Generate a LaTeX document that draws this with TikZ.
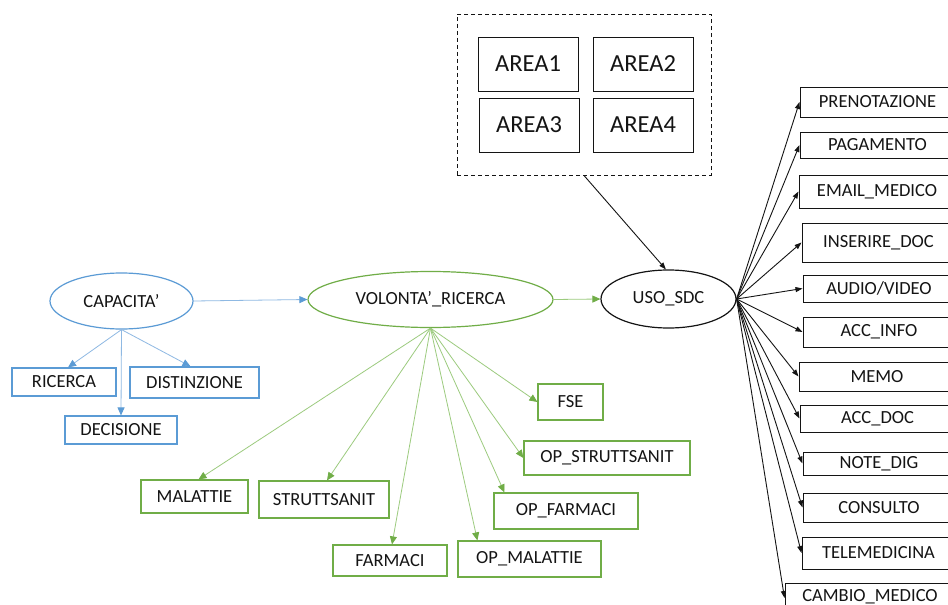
\documentclass[tikz,border=0pt]{standalone}
\usepackage{fontspec}
\setmainfont{Carlito}
\usetikzlibrary{arrows.meta,shapes.geometric}
\definecolor{bluec}{HTML}{5B9BD5}
\definecolor{bluel}{HTML}{8FB9E3}
\definecolor{greenc}{HTML}{70AD47}
\definecolor{greenl}{HTML}{9CCB7E}
\definecolor{inkc}{HTML}{141414}
\tikzset{
  lbl/.style={font=\fontsize{18.5}{20}\selectfont, text=inkc, inner sep=0pt},
  bigbox/.style={lbl, draw=inkc, line width=1pt, font=\fontsize{24.5}{26}\selectfont},
  bluebox/.style={lbl, draw=bluec, line width=1.2pt},
  greenbox/.style={lbl, draw=greenc, line width=1.2pt},
  blackbox/.style={lbl, draw=inkc, line width=1pt},
  oval/.style={lbl, ellipse, line width=1.2pt},
  bluearrow/.style={draw=bluel, line width=0.8pt, -{Triangle[length=8pt,width=7pt,color=bluec]}},
  greenarrow/.style={draw=greenl, line width=0.8pt, -{Triangle[length=8pt,width=7pt,color=greenc]}},
  blackarrow/.style={draw=inkc, line width=0.9pt, -{Triangle[length=7pt,width=5pt]}},
}
\begin{document}
\begin{tikzpicture}[x=1pt,y=-1pt]
\clip (0,0) rectangle (948,605);
\fill[white] (0,0) rectangle (948,605);

% top group of areas
\node[draw=inkc, dashed, dash pattern=on 4pt off 3pt, line width=1pt, minimum width=254, minimum height=161, inner sep=0pt] (areas) at (584,94.5) {};
\node[bigbox, minimum width=100, minimum height=54] (a1) at (528,64) {AREA1};
\node[bigbox, minimum width=100, minimum height=54] (a2) at (643,64) {AREA2};
\node[bigbox, minimum width=100, minimum height=54] (a3) at (529,125) {AREA3};
\node[bigbox, minimum width=100, minimum height=54] (a4) at (643,125) {AREA4};

% main ellipses
\node[oval, draw=bluec, minimum width=143, minimum height=56] (cap) at (121.5,301) {CAPACITA’};
\node[oval, draw=greenc, minimum width=245, minimum height=56] (vol) at (430.5,299.5) {VOLONTA’\_RICERCA};
\node[oval, draw=inkc, minimum width=135, minimum height=58] (uso) at (668.5,299) {USO\_SDC};

% blue boxes
\node[bluebox, minimum width=104, minimum height=28] (ric) at (64,382) {RICERCA};
\node[bluebox, minimum width=129, minimum height=31] (dist) at (194.5,382.5) {DISTINZIONE};
\node[bluebox, minimum width=112, minimum height=28] (dec) at (121,430) {DECISIONE};

% green boxes
\node[greenbox, minimum width=65, minimum height=36] (fse) at (570.5,402) {FSE};
\node[greenbox, minimum width=166, minimum height=34] (opstr) at (607,458) {OP\_STRUTTSANIT};
\node[greenbox, minimum width=144, minimum height=36] (opfar) at (566,511) {OP\_FARMACI};
\node[greenbox, minimum width=143, minimum height=36] (opmal) at (529.5,559) {OP\_MALATTIE};
\node[greenbox, minimum width=114, minimum height=31] (far) at (390,560.5) {FARMACI};
\node[greenbox, minimum width=107, minimum height=33] (mal) at (194.5,496.5) {MALATTIE};
\node[greenbox, minimum width=130, minimum height=37] (str) at (324,499.5) {STRUTTSANIT};

% service boxes on the right
\node[blackbox, minimum width=155, minimum height=30] (pren) at (877.5,102) {PRENOTAZIONE};
\node[blackbox, minimum width=155, minimum height=26] (pag) at (877.5,145) {PAGAMENTO};
\node[blackbox, minimum width=156, minimum height=33] (mail) at (877,191.5) {EMAIL\_MEDICO};
\node[blackbox, minimum width=153, minimum height=39] (ins) at (878.5,242.5) {INSERIRE\_DOC};
\node[blackbox, minimum width=152, minimum height=27] (av) at (879,288.5) {AUDIO/VIDEO};
\node[blackbox, minimum width=152, minimum height=30] (accinfo) at (879,332) {ACC\_INFO};
\node[blackbox, minimum width=156, minimum height=29] (memo) at (877,376.5) {MEMO};
\node[blackbox, minimum width=155, minimum height=27] (accdoc) at (877.5,418.5) {ACC\_DOC};
\node[blackbox, minimum width=152, minimum height=23] (note) at (879,463.5) {NOTE\_DIG};
\node[blackbox, minimum width=152, minimum height=29] (cons) at (879,507.5) {CONSULTO};
\node[blackbox, minimum width=153, minimum height=32] (tele) at (878.5,553) {TELEMEDICINA};
\node[blackbox, minimum width=170, minimum height=30] (camb) at (870,598) {};
\node[lbl, anchor=base] (cambtxt) at (870,601.5) {CAMBIO\_MEDICO};

% connectors
\draw[blackarrow] (areas.south) -- (uso.95);
\draw[bluearrow] (cap.east) -- (vol.west);
\draw[greenarrow] (vol.east) -- (uso.west);

\draw[bluearrow] (cap.south) -- ([xshift=4pt]ric.north);
\draw[bluearrow] (cap.south) -- (dec.north);
\draw[bluearrow] (cap.south) -- ([xshift=-4pt]dist.north);

\foreach \t in {fse, opstr}
  \draw[greenarrow] (vol.south) -- (\t.west);
\draw[greenarrow] (vol.south) -- ([xshift=11pt]opfar.north west);
\draw[greenarrow] (vol.south) -- ([xshift=20pt]opmal.north west);
\draw[greenarrow] (vol.south) -- ([xshift=2pt]far.north);
\draw[greenarrow] (vol.south) -- ([xshift=4pt]mal.north);
\draw[greenarrow] (vol.south) -- ([xshift=3pt]str.north);

\foreach \t in {pren, pag, mail, ins, av, accinfo, memo, accdoc, note, cons, tele, camb}
  \draw[blackarrow] (uso.east) -- (\t.west);
\end{tikzpicture}
\end{document}
